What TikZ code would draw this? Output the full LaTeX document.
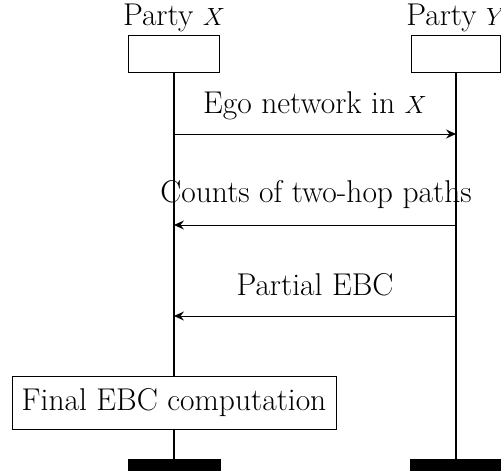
\documentclass[tikz,border=0pt]{standalone}
\usetikzlibrary{arrows.meta}
\begin{document}
\begin{tikzpicture}[x=1pt,y=-1pt,
  txt/.style={font=\fontsize{31.5}{36}\selectfont, inner sep=0pt},
  partybox/.style={draw, line width=1pt, minimum width=91pt, minimum height=37pt, inner sep=0pt},
  life/.style={line width=1.3pt},
  msg/.style={line width=1pt, -{Stealth[length=10pt,width=9pt,inset=3.5pt]}},
  bar/.style={fill=black, minimum width=93pt, minimum height=12pt, inner sep=0pt}]
\useasboundingbox (0,0) rectangle (501,474);
% parties
\node[partybox] (bx) at (174,53.5) {};
\node[partybox, minimum width=89pt] (by) at (456,54) {};
\node[txt, anchor=base] (lx) at (174,25) {Party $X$};
\node[txt, anchor=base] (ly) at (456,25) {Party $Y$};
% final computation box
\node[draw, line width=1pt, minimum width=324pt, minimum height=53pt, inner sep=0pt, font=\fontsize{31.5}{36}\selectfont] (fin) at (174,402.5) {Final EBC computation};
% end bars
\node[bar] (ex) at (174,465) {};
\node[bar] (ey) at (456,465) {};
% lifelines
\draw[life] (bx.south) -- (bx.south |- fin.north);
\draw[life] (bx.south |- fin.south) -- (ex.north);
\draw[life] (by.south) -- (ey.north);
% message end points
\coordinate (m1s) at (bx |- 0,134);
\coordinate (m1e) at (by |- 0,134);
\coordinate (m2s) at (by |- 0,225);
\coordinate (m2e) at (bx |- 0,225);
\coordinate (m3s) at (by |- 0,316);
\coordinate (m3e) at (bx |- 0,316);
\draw[msg] (m1s) -- (m1e);
\draw[msg] (m2s) -- (m2e);
\draw[msg] (m3s) -- (m3e);
% labels
\node[txt, anchor=base] (t1) at (315,113) {Ego network in $X$};
\node[txt, anchor=base] (t2) at (316,202) {Counts of two-hop paths};
\node[txt, anchor=base] (t3) at (315,295) {Partial EBC};
\end{tikzpicture}
\end{document}
